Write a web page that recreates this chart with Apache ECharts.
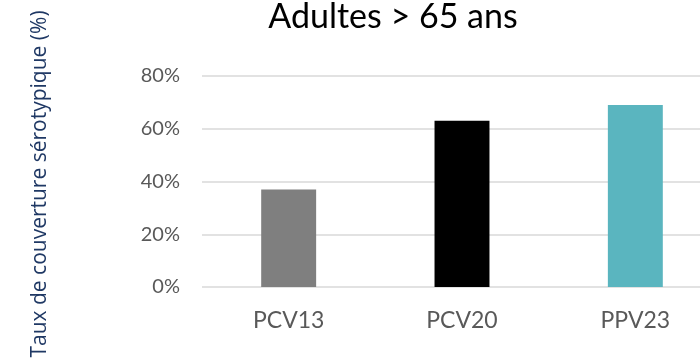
<!DOCTYPE html>
<html>
<head>
<meta charset="utf-8">
<script src="https://cdn.jsdelivr.net/npm/echarts@6/dist/echarts.min.js"></script>
<style>
  html, body { margin: 0; padding: 0; background: #fff; }
  #chart { width: 700px; height: 358px; }
</style>
</head>
<body>
<div id="chart"></div>
<script>
// Serotype coverage by vaccine, adults over 65
const categories = ['PCV13', 'PCV20', 'PPV23'];
const coverage = [37, 63, 69];
const barColors = ['#7f7f7f', '#000000', '#5ab5bf'];
const yTicks = { min: 0, max: 80, interval: 20 };
const yTitle = 'Taux de couverture sérotypique (%)';

const chart = echarts.init(document.getElementById('chart'));
chart.setOption({
  animation: false,
  title: {
    text: 'Adultes > 65 ans',
    left: 388,
    textAlign: 'center',
    top: -5,
    textStyle: { fontFamily: 'Lato', fontWeight: 'normal', fontSize: 34, color: '#000' }
  },
  graphic: [{
    type: 'text',
    x: 40,
    y: 184,
    rotation: Math.PI / 2,
    style: {
      text: yTitle,
      fill: '#1f3864',
      font: '21px "Open Sans"',
      align: 'center',
      verticalAlign: 'middle'
    }
  }],
  grid: { left: 202, top: 76, width: 520, height: 211, outerBoundsMode: 'none' },
  xAxis: {
    type: 'category',
    data: categories,
    axisLine: { show: false },
    axisTick: { show: false },
    axisLabel: { color: '#595959', fontFamily: 'Lato', fontSize: 23, margin: 22 }
  },
  yAxis: {
    type: 'value',
    min: yTicks.min,
    max: yTicks.max,
    interval: yTicks.interval,
    axisLabel: { formatter: '{value}%', color: '#595959', fontFamily: 'Lato', fontSize: 20, margin: 22 },
    splitLine: { lineStyle: { color: '#d9d9d9', width: 1.5 } },
    axisLine: { show: false },
    axisTick: { show: false }
  },
  series: [{
    type: 'bar',
    barWidth: '31.7%',
    data: coverage.map((v, i) => ({ value: v, itemStyle: { color: barColors[i] } }))
  }]
});
</script>
</body>
</html>
